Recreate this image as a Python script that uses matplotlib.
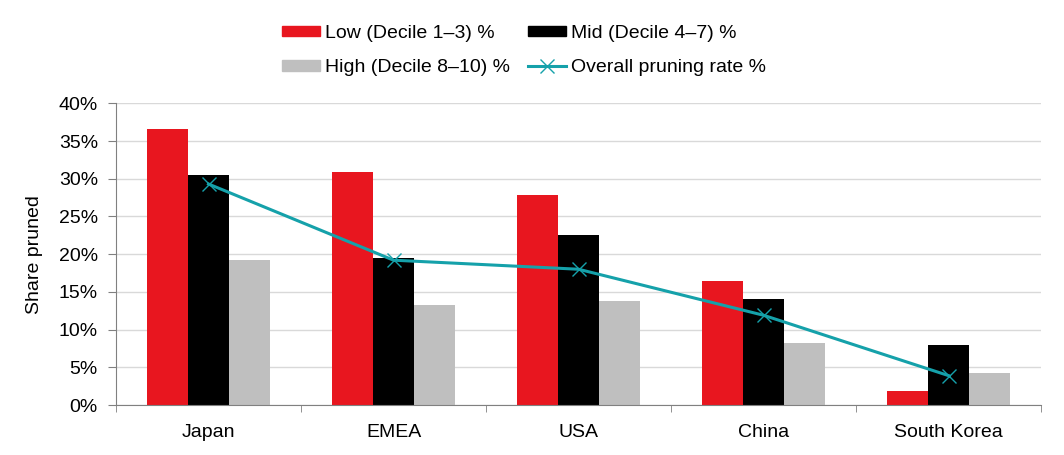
import matplotlib
matplotlib.use("Agg")
import matplotlib.pyplot as plt
import numpy as np
from matplotlib.patches import Patch
from matplotlib.lines import Line2D
from matplotlib.ticker import FuncFormatter, FixedLocator

plt.rcParams['font.family'] = ['Liberation Sans', 'DejaVu Sans']

categories = ["Japan", "EMEA", "USA", "China", "South Korea"]
low = [36.6, 30.9, 27.8, 16.4, 1.8]
mid = [30.5, 19.5, 22.5, 14.1, 8.0]
high = [19.2, 13.3, 13.8, 8.2, 4.3]
overall = [29.3, 19.2, 18.0, 11.9, 3.9]

c_low = "#E8161F"
c_mid = "#000000"
c_high = "#BFBFBF"
c_line = "#15A1AA"

FS = 14

fig = plt.figure(figsize=(10.64, 4.55), dpi=100)
ax = fig.add_axes([116/1064, 1-405/455, (1041-116)/1064, (405-103.3)/455])

x = np.arange(len(categories))
w = 0.2216
ax.bar(x - w, low, w, color=c_low, zorder=2)
ax.bar(x, mid, w, color=c_mid, zorder=2)
ax.bar(x + w, high, w, color=c_high, zorder=2)
ax.plot(x, overall, color=c_line, lw=2.2, marker='x', ms=10, mew=1.0, zorder=3)

ax.set_xlim(-0.5, len(categories) - 0.5)
ax.set_ylim(0, 40)
ax.yaxis.set_major_locator(FixedLocator(np.arange(0, 41, 5)))
ax.yaxis.set_major_formatter(FuncFormatter(lambda v, p: f"{int(v)}%"))
ax.grid(axis='y', color='#D9D9D9', lw=1, zorder=0)
ax.set_axisbelow(True)

ax.set_xticks(x)
ax.set_xticklabels(categories)
ax.set_xticks(np.arange(-0.5, len(categories)), minor=True)
ax.tick_params(axis='x', which='major', length=0, pad=14, labelsize=FS)
ax.tick_params(axis='x', which='minor', length=5, color='#808080', direction='out')
ax.tick_params(axis='y', length=6, color='#808080', labelsize=FS, pad=7)

for s in ['top', 'right']:
    ax.spines[s].set_visible(False)
for s in ['left', 'bottom']:
    ax.spines[s].set_color('#808080')

ax.set_ylabel("Share pruned", fontsize=FS, labelpad=11)

handles = [
    Patch(color=c_low, label="Low (Decile 1–3) %"),
    Patch(color=c_high, label="High (Decile 8–10) %"),
    Patch(color=c_mid, label="Mid (Decile 4–7) %"),
    Line2D([], [], color=c_line, lw=2.2, marker='x', ms=10, mew=1.0, label="Overall pruning rate %"),
]
fig.legend(handles=handles, ncol=2, loc='center', bbox_to_anchor=(524/1064, 1-50.5/455),
           frameon=False, fontsize=FS, handlelength=1.95, handleheight=0.46,
           columnspacing=0.9, labelspacing=0.9, handletextpad=0.25,
           borderpad=0, borderaxespad=0)

fig.savefig("out.png", dpi=100)
